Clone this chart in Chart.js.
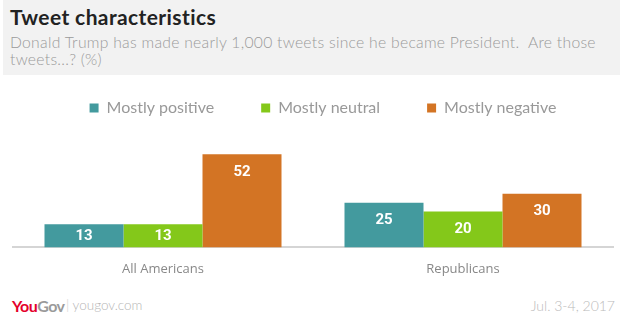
<!DOCTYPE html>
<html>
<head>
<meta charset="utf-8">
<script src="https://cdn.jsdelivr.net/npm/chart.js@4"></script>
<style>
  html, body { margin:0; padding:0; background:#fff; width:625px; height:322px; overflow:hidden; font-family: Lato, "Open Sans", sans-serif; }
  #head { position:absolute; left:3px; top:0; width:617px; height:75px; background:#f2f2f2; }
  #title { position:absolute; left:7px; top:4px; font-size:21px; font-weight:bold; color:#222; letter-spacing:0.4px; }
  #sub { position:absolute; left:7px; top:34px; font-size:15.7px; line-height:17px; color:#9a9a9a; font-weight:300; letter-spacing:0.28px; white-space:nowrap; }
  #wrap { position:absolute; left:0; top:46px; width:625px; height:237px; }
  #logo { position:absolute; left:12px; top:296px; font-size:16px; font-weight:bold; letter-spacing:-0.5px; }
  #site { position:absolute; left:66px; top:297px; font-size:13.5px; color:#b5b5b5; font-weight:300; }
  #date { position:absolute; right:10px; top:297px; font-size:14px; color:#bbb; font-weight:300; }
  canvas { position:relative; z-index:2; }
</style>
</head>
<body>
<div id="head">
  <div id="title">Tweet characteristics</div>
  <div id="sub">Donald Trump has made nearly 1,000 tweets since he became President.&nbsp; Are those<br>tweets...? (%)</div>
</div>
<div id="wrap"><canvas id="c"></canvas></div>
<div id="logo"><span style="color:#e4002b">You</span><span style="color:#9a9a9a">Gov</span></div>
<div id="site"><span style="color:#ccc">|</span> yougov.com</div>
<div id="date">Jul. 3-4, 2017</div>
<script>
const categories = ['All Americans', 'Republicans'];
const seriesNames = ['Mostly positive', 'Mostly neutral', 'Mostly negative'];
const positive = [13, 25];
const neutral = [13, 20];
const negative = [52, 30];
const colors = ['#439a9e', '#84c81a', '#d37424'];

// shrink the legend box so the plot starts close under it, and nudge it a bit right/down
const legendTweak = {
  id: 'legendTweak',
  beforeInit(chart) {
    const legend = chart.legend;
    const fit = legend.fit;
    legend.fit = function () { fit.call(this); this.height = 94; };
    const draw = legend.draw;
    legend.draw = function () {
      this.ctx.save();
      this.ctx.translate(10, 7);
      draw.call(this);
      this.ctx.restore();
    };
  }
};

const barLabels = {
  id: 'barLabels',
  afterDatasetsDraw(chart) {
    const ctx = chart.ctx;
    ctx.save();
    ctx.fillStyle = '#fff';
    ctx.font = 'bold 15px Roboto, "DejaVu Sans Condensed", sans-serif';
    ctx.textAlign = 'center';
    ctx.textBaseline = 'middle';
    chart.data.datasets.forEach((ds, i) => {
      chart.getDatasetMeta(i).data.forEach((bar, j) => {
        const y = Math.min(bar.y + 18, (bar.y + bar.base) / 2);
        ctx.fillText(ds.data[j], bar.x, y);
      });
    });
    ctx.restore();
  }
};

new Chart(document.getElementById('c'), {
  type: 'bar',
  data: {
    labels: categories,
    datasets: [
      { label: seriesNames[0], data: positive, backgroundColor: colors[0] },
      { label: seriesNames[1], data: neutral, backgroundColor: colors[1] },
      { label: seriesNames[2], data: negative, backgroundColor: colors[2] }
    ]
  },
  options: {
    responsive: true,
    maintainAspectRatio: false,
    animation: false,
    layout: { padding: { left: 13, right: 12, top: 0, bottom: 0 } },
    datasets: { bar: { categoryPercentage: 0.79, barPercentage: 1 } },
    plugins: {
      tooltip: { enabled: false },
      legend: {
        labels: { boxWidth: 9, boxHeight: 9, padding: 47, color: '#999', font: { size: 16, family: 'Lato' } }
      }
    },
    scales: {
      x: {
        grid: { display: false },
        border: { color: '#d5d5d5', width: 2 },
        ticks: { color: '#888', font: { size: 13, family: '"Open Sans"' }, padding: 6 }
      },
      y: { display: false, min: 0, max: 60 }
    }
  },
  plugins: [barLabels, legendTweak]
});
</script>
</body>
</html>
